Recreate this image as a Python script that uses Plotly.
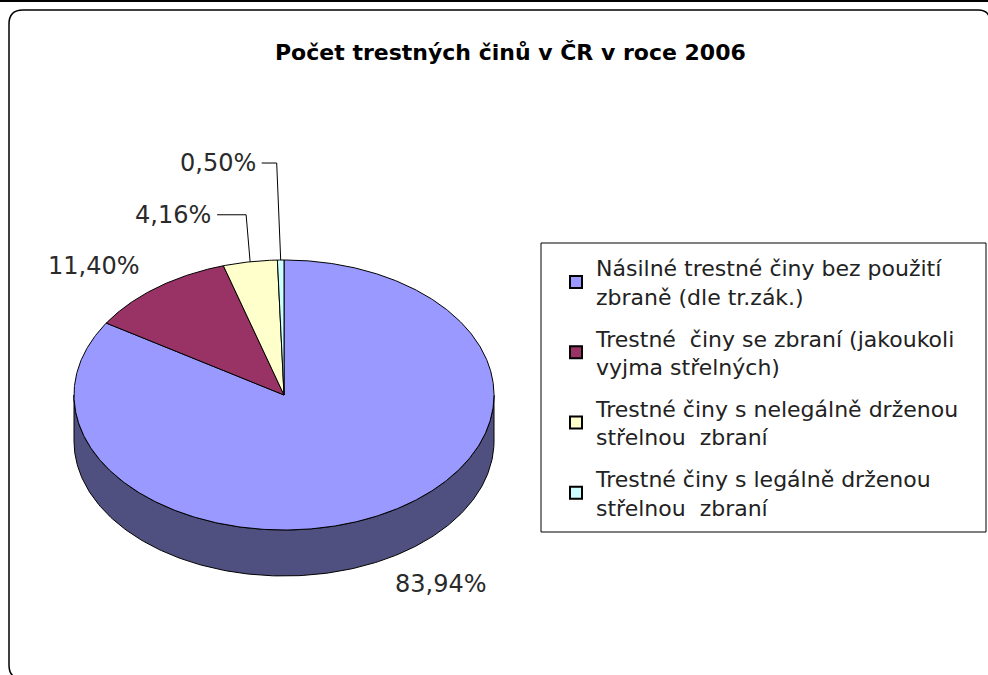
import numpy as np
import plotly.graph_objects as go

# ---- data ----
categories = [
    "Násilné trestné činy bez použití<br>zbraně (dle tr.zák.)",
    "Trestné\u00a0 činy se zbraní (jakoukoli<br>vyjma střelných)",
    "Trestné činy s nelegálně drženou<br>střelnou\u00a0 zbraní",
    "Trestné činy s legálně drženou<br>střelnou\u00a0 zbraní",
]
values = [83.94, 11.40, 4.16, 0.50]
title_text = "Počet trestných činů v ČR v roce 2006"

# ---- style ----
colors = ["#9999ff", "#993366", "#ffffcc", "#ccffff"]
side_colors = ["#505080", "#4d1a33", "#808066", "#668080"]
CX, CY, RX, RY, DEPTH = 284, 395, 210, 135, 46
W, H = 988, 675
FONT = "DejaVu Sans, Verdana, sans-serif"
# label offsets relative to slice mid-point on top ellipse: (dx, dy, xanchor, leader)
label_style = [
    (7, 71, "left", False),
    (-15, -22, "right", False),
    (-37, -47, "right", True),
    (-23, -97, "right", True),
]


def ell(theta_deg, dy=0.0):
    t = np.radians(theta_deg)
    return CX + RX * np.sin(t), CY - RY * np.cos(t) + dy


fig = go.Figure()

total = sum(values)
bounds = []
acc = 0.0
for v in values:
    s = acc / total * 360
    acc += v
    e = acc / total * 360
    bounds.append((s, e))

# side walls (visible front half: 90..270 deg)
for (s, e), sc in zip(bounds, side_colors):
    a, b = max(s, 90), min(e, 270)
    if b <= a:
        continue
    th = np.linspace(a, b, 200)
    xt, yt = ell(th)
    xb, yb = ell(th[::-1], DEPTH)
    xs = np.concatenate([xt, xb, xt[:1]])
    ys = np.concatenate([yt, yb, yt[:1]])
    fig.add_trace(go.Scatter(x=xs, y=ys, mode="lines", fill="toself",
                             fillcolor=sc, line=dict(color="black", width=1),
                             hoverinfo="skip", showlegend=False))

# top slices
for (s, e), c in zip(bounds, colors):
    th = np.linspace(s, e, max(int((e - s) * 2), 4))
    xt, yt = ell(th)
    xs = np.concatenate([[CX], xt, [CX]])
    ys = np.concatenate([[CY], yt, [CY]])
    fig.add_trace(go.Scatter(x=xs, y=ys, mode="lines", fill="toself",
                             fillcolor=c, line=dict(color="black", width=1),
                             hoverinfo="skip", showlegend=False))

# labels
annotations = []
for (s, e), v, (dx, dy, xa, leader) in zip(bounds, values, label_style):
    mx, my = ell((s + e) / 2)
    lx, ly = mx + dx, my + dy
    txt = f"{v:.2f}%".replace(".", ",")
    annotations.append(dict(x=lx, y=ly, xref="x", yref="y", text=txt,
                            showarrow=False, xanchor=xa, yanchor="middle",
                            font=dict(family=FONT, size=24, color="#2a2a2a")))
    if leader:
        fig.add_trace(go.Scatter(x=[lx + 4, mx - 4, mx], y=[ly, ly, my],
                                 mode="lines", line=dict(color="black", width=1),
                                 hoverinfo="skip", showlegend=False))

# legend entries
for i, (cat, c) in enumerate(zip(categories, colors)):
    fig.add_trace(go.Scatter(x=[None], y=[None], mode="markers", name=cat,
                             legendgroup=str(i),
                             marker=dict(symbol="square", size=14, color=c,
                                         line=dict(color="black", width=1))))

annotations.append(dict(x=510, y=52, xref="x", yref="y", text=title_text,
                        showarrow=False, xanchor="center", yanchor="middle",
                        font=dict(family=FONT, size=22, color="black", weight="bold")))

frame_path = ("M 23,679 Q 9,679 9,665 L 9,24 Q 9,10 23,10 "
              "L 978,10 Q 990,10 990,22 L 990,690")
shapes = [
    dict(type="path", path=frame_path, xref="x", yref="y",
         line=dict(color="black", width=1.5)),
    dict(type="line", x0=0, x1=W, y0=1, y1=1, xref="x", yref="y",
         line=dict(color="black", width=2)),
    dict(type="rect", x0=541, x1=986, y0=243, y1=532, xref="x", yref="y",
         line=dict(color="black", width=1), layer="below"),
]

fig.update_layout(
    width=W, height=H,
    margin=dict(l=0, r=0, t=0, b=0),
    paper_bgcolor="white", plot_bgcolor="white",
    xaxis=dict(range=[0, W], visible=False, fixedrange=True),
    yaxis=dict(range=[H, 0], visible=False, fixedrange=True),
    showlegend=True,
    legend=dict(x=556 / W, y=1 - 247 / H, xanchor="left", yanchor="top",
                bgcolor="rgba(0,0,0,0)", borderwidth=0,
                font=dict(family=FONT, size=22, color="#222"),
                tracegroupgap=10, itemsizing="constant"),
    annotations=annotations,
    shapes=shapes,
)

fig.write_html("out.html", config={"displayModeBar": False},
               post_script="document.body.style.margin='0';document.body.style.overflow='hidden';")
